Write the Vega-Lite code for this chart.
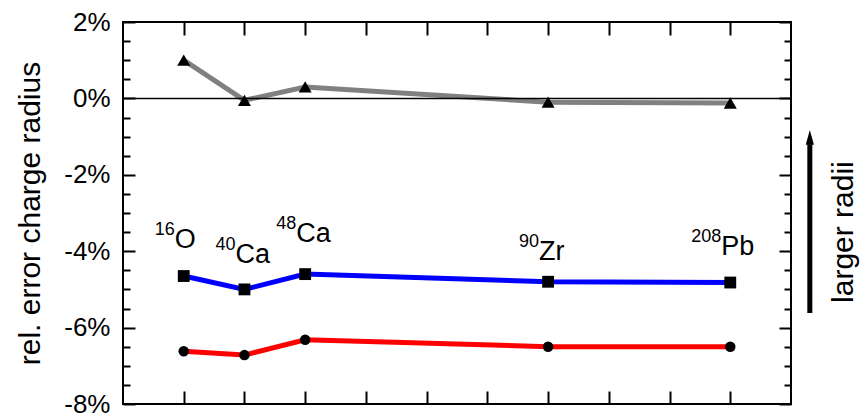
{
  "$schema": "https://vega.github.io/schema/vega-lite/v6.json",
  "width": 668,
  "height": 382,
  "autosize": "none",
  "padding": {"left": 123, "top": 22, "right": 74, "bottom": 13},
  "config": {
    "view": {"stroke": "black", "strokeWidth": 2},
    "font": "Liberation Sans",
    "text": {"font": "Liberation Sans"}
  },
  "datasets": {
    "pts": [
      {"series": "gray", "nucleus": "16O", "x": 1, "v": 1.0},
      {"series": "gray", "nucleus": "40Ca", "x": 2, "v": -0.05},
      {"series": "gray", "nucleus": "48Ca", "x": 3, "v": 0.3},
      {"series": "gray", "nucleus": "90Zr", "x": 7, "v": -0.1},
      {"series": "gray", "nucleus": "208Pb", "x": 10, "v": -0.12},
      {"series": "blue", "nucleus": "16O", "x": 1, "v": -4.65},
      {"series": "blue", "nucleus": "40Ca", "x": 2, "v": -5.0},
      {"series": "blue", "nucleus": "48Ca", "x": 3, "v": -4.6},
      {"series": "blue", "nucleus": "90Zr", "x": 7, "v": -4.8},
      {"series": "blue", "nucleus": "208Pb", "x": 10, "v": -4.82},
      {"series": "red", "nucleus": "16O", "x": 1, "v": -6.62},
      {"series": "red", "nucleus": "40Ca", "x": 2, "v": -6.72},
      {"series": "red", "nucleus": "48Ca", "x": 3, "v": -6.32},
      {"series": "red", "nucleus": "90Zr", "x": 7, "v": -6.5},
      {"series": "red", "nucleus": "208Pb", "x": 10, "v": -6.5}
    ],
    "labels": [
      {"x": 1, "y": -3.92, "sym": "O", "mass": "16"},
      {"x": 2, "y": -4.31, "sym": "Ca", "mass": "40"},
      {"x": 3, "y": -3.76, "sym": "Ca", "mass": "48"},
      {"x": 7, "y": -4.23, "sym": "Zr", "mass": "90"},
      {"x": 10, "y": -4.1, "sym": "Pb", "mass": "208"}
    ],
    "arrow": [{"x": 11.31, "y": -5.62, "y2": -1.2, "ty": -1.02}],
    "note": [{"x": 11.88, "y": -3.5, "t": "larger radii"}],
    "zero": [{"y": 0}]
  },
  "layer": [
    {
      "data": {"name": "pts"},
      "mark": {"type": "line", "strokeWidth": 5},
      "encoding": {
        "x": {
          "field": "x", "type": "quantitative",
          "scale": {"domain": [0, 11], "nice": false, "zero": false},
          "axis": {
            "orient": "bottom", "values": [1, 2, 3, 4, 5, 6, 7, 8, 9, 10],
            "labels": false, "tickSize": -13, "tickWidth": 2, "tickColor": "black",
            "domain": false, "grid": false, "title": null
          }
        },
        "y": {
          "field": "v", "type": "quantitative",
          "scale": {"domain": [-8, 2], "nice": false, "zero": false},
          "axis": {
            "orient": "left",
            "values": [-8, -7.5, -7, -6.5, -6, -5.5, -5, -4.5, -4, -3.5, -3, -2.5, -2, -1.5, -1, -0.5, 0, 0.5, 1, 1.5, 2],
            "labelExpr": "datum.value % 2 === 0 ? datum.value + '%' : ''",
            "tickSize": {"condition": {"test": "datum.value % 2 === 0", "value": -12}, "value": -7},
            "tickWidth": 2, "tickColor": "black", "domain": false, "grid": false,
            "labelFontSize": 26, "labelColor": "black", "labelPadding": 25,
            "labelOverlap": false, "labelFlush": false, "labelFont": "Liberation Sans",
            "title": "rel. error charge radius", "titleFontSize": 30,
            "titleFontWeight": "normal", "titleColor": "black", "titlePadding": 18,
            "titleFont": "Liberation Sans"
          }
        },
        "color": {
          "field": "series", "type": "nominal",
          "scale": {"domain": ["gray", "blue", "red"], "range": ["#808080", "#0000ff", "#ff0000"]},
          "legend": null
        }
      }
    },
    {
      "data": {"name": "zero"},
      "mark": {"type": "rule", "color": "black", "strokeWidth": 1.5},
      "encoding": {
        "y": {"field": "y", "type": "quantitative", "scale": {"domain": [-8, 2], "nice": false, "zero": false}, "axis": null}
      }
    },
    {
      "data": {"name": "pts"},
      "mark": {"type": "point", "filled": true, "color": "black", "opacity": 1},
      "encoding": {
        "x": {
          "field": "x", "type": "quantitative",
          "scale": {"domain": [0, 11], "nice": false, "zero": false},
          "axis": {
            "orient": "top", "values": [1, 2, 3, 4, 5, 6, 7, 8, 9, 10],
            "labels": false, "tickSize": -13, "tickWidth": 2, "tickColor": "black",
            "domain": false, "grid": false, "title": null
          }
        },
        "y": {
          "field": "v", "type": "quantitative",
          "scale": {"domain": [-8, 2], "nice": false, "zero": false},
          "axis": {
            "orient": "right",
            "values": [-8, -7.5, -7, -6.5, -6, -5.5, -5, -4.5, -4, -3.5, -3, -2.5, -2, -1.5, -1, -0.5, 0, 0.5, 1, 1.5, 2],
            "labels": false,
            "tickSize": {"condition": {"test": "datum.value % 2 === 0", "value": -12}, "value": -7},
            "tickWidth": 2, "tickColor": "black", "domain": false, "grid": false, "title": null
          }
        },
        "shape": {
          "field": "series", "type": "nominal",
          "scale": {"domain": ["gray", "blue", "red"], "range": ["triangle-up", "square", "circle"]},
          "legend": null
        },
        "size": {
          "field": "series", "type": "nominal",
          "scale": {"domain": ["gray", "blue", "red"], "range": [170, 110, 120]},
          "legend": null
        }
      }
    },
    {
      "data": {"name": "labels"},
      "mark": {"type": "text", "align": "left", "baseline": "alphabetic", "dx": -9, "fontSize": 27, "color": "black"},
      "encoding": {
        "x": {"field": "x", "type": "quantitative", "scale": {"domain": [0, 11], "nice": false, "zero": false}, "axis": null},
        "y": {"field": "y", "type": "quantitative", "scale": {"domain": [-8, 2], "nice": false, "zero": false}, "axis": null},
        "text": {"field": "sym"}
      }
    },
    {
      "data": {"name": "labels"},
      "mark": {"type": "text", "align": "right", "baseline": "alphabetic", "dx": -9, "dy": -13, "fontSize": 18, "color": "black"},
      "encoding": {
        "x": {"field": "x", "type": "quantitative", "scale": {"domain": [0, 11], "nice": false, "zero": false}, "axis": null},
        "y": {"field": "y", "type": "quantitative", "scale": {"domain": [-8, 2], "nice": false, "zero": false}, "axis": null},
        "text": {"field": "mass"}
      }
    },
    {
      "data": {"name": "arrow"},
      "mark": {"type": "rule", "color": "black", "strokeWidth": 5},
      "encoding": {
        "x": {"field": "x", "type": "quantitative", "scale": {"domain": [0, 11], "nice": false, "zero": false}, "axis": null},
        "y": {"field": "y", "type": "quantitative", "scale": {"domain": [-8, 2], "nice": false, "zero": false}, "axis": null},
        "y2": {"field": "y2"}
      }
    },
    {
      "data": {"name": "arrow"},
      "mark": {"type": "point", "filled": true, "color": "black", "opacity": 1, "shape": "M0,-1L0.55,1L-0.55,1Z", "size": 220},
      "encoding": {
        "x": {"field": "x", "type": "quantitative", "scale": {"domain": [0, 11], "nice": false, "zero": false}, "axis": null},
        "y": {"field": "ty", "type": "quantitative", "scale": {"domain": [-8, 2], "nice": false, "zero": false}, "axis": null}
      }
    },
    {
      "data": {"name": "note"},
      "mark": {"type": "text", "angle": 270, "align": "center", "baseline": "middle", "fontSize": 30, "color": "black"},
      "encoding": {
        "x": {"field": "x", "type": "quantitative", "scale": {"domain": [0, 11], "nice": false, "zero": false}, "axis": null},
        "y": {"field": "y", "type": "quantitative", "scale": {"domain": [-8, 2], "nice": false, "zero": false}, "axis": null},
        "text": {"field": "t"}
      }
    }
  ],
  "resolve": {
    "scale": {"x": "independent", "y": "independent"},
    "axis": {"x": "independent", "y": "independent"}
  }
}
